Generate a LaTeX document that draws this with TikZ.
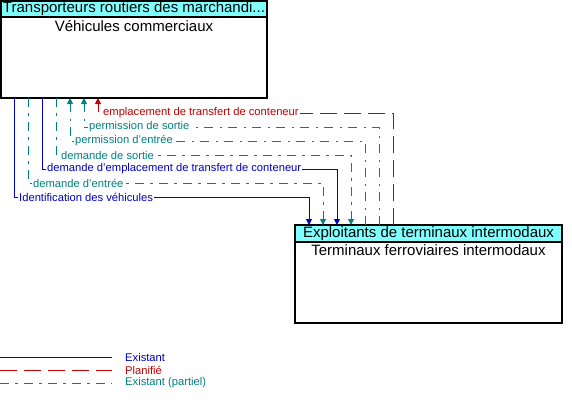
\documentclass[tikz,border=0pt]{standalone}
\usepackage{fontspec}
\setmainfont{Liberation Sans}
\usetikzlibrary{arrows.meta,calc}
\definecolor{cblue}{RGB}{0,0,200}
\definecolor{cred}{RGB}{192,0,0}
\definecolor{cteal}{RGB}{0,128,128}
\definecolor{chead}{RGB}{128,255,255}
\tikzset{
  box/.style={draw=black, line width=1.1pt, fill=white, anchor=north west, outer sep=0pt, inner sep=0pt},
  head/.style={draw=black, line width=1.1pt, fill=chead, anchor=north west, outer sep=0pt, inner sep=0pt},
  ttl/.style={anchor=center, inner sep=0pt, font=\fontsize{15}{17}\selectfont},
  exist/.style={cblue, line width=1pt},
  plan/.style={cred, line width=1pt, dash pattern=on 17pt off 7pt},
  part/.style={cteal, line width=1pt, dash pattern=on 9pt off 6pt on 2.5pt off 6.5pt},
  tip/.style={-{Triangle[length=6pt,width=6pt]}},
  lbl/.style={anchor=west, fill=white, inner sep=1pt, font=\fontsize{11.2}{13}\selectfont},
}
\begin{document}
\begin{tikzpicture}[x=1pt,y=-1pt]
\useasboundingbox (0,0) rectangle (572,402);
% boxes
\node[box, minimum width=266pt, minimum height=97pt] (veh) at (1,1) {};
\node[head, minimum width=266pt, minimum height=16pt] (vehh) at (veh.north west) {};
\node[ttl] (vehht) at (134,9) {Transporteurs routiers des marchandi...};
\node[ttl] (vehbt) at (134,26) {Véhicules commerciaux};
\node[box, minimum width=267pt, minimum height=98pt] (term) at (295,225) {};
\node[head, minimum width=267pt, minimum height=17pt] (termh) at (term.north west) {};
\node[ttl] (termht) at (428.5,233.5) {Exploitants de terminaux intermodaux};
\node[ttl] (termbt) at (428.5,250) {Terminaux ferroviaires intermodaux};
% connectors: veh -> term
\draw[exist,tip] ($(veh.south west)+(13,0)$) -- ++(0,99) -| ($(term.north west)+(14,0)$);
\node[lbl, text=cblue] (l1) at ($(veh.south west)+(17,99)$) {Identification des véhicules};
\draw[part,tip] ($(veh.south west)+(27,0)$) -- ++(0,85) -| ($(term.north west)+(28,0)$);
\node[lbl, text=cteal] (l2) at ($(veh.south west)+(31,85)$) {demande d'entrée};
\draw[exist,tip] ($(veh.south west)+(41,0)$) -- ++(0,71) -| ($(term.north west)+(42,0)$);
\node[lbl, text=cblue] (l3) at ($(veh.south west)+(45,71)$) {demande d'emplacement de transfert de conteneur};
\draw[part,tip] ($(veh.south west)+(55,0)$) -- ++(0,57) -| ($(term.north west)+(56,0)$);
\node[lbl, text=cteal] (l4) at ($(veh.south west)+(59,57)$) {demande de sortie};
% connectors: term -> veh
\draw[part,tip] ($(term.north west)+(70,0)$) |- ($(veh.south west)+(69,43)$) -- ($(veh.south west)+(69,0)$);
\node[lbl, text=cteal] (l5) at ($(veh.south west)+(73,43)$) {permission d'entrée};
\draw[part,tip] ($(term.north west)+(84,0)$) |- ($(veh.south west)+(83,29)$) -- ($(veh.south west)+(83,0)$);
\node[lbl, text=cteal] (l6) at ($(veh.south west)+(87,29)$) {permission de sortie};
\draw[plan,tip] ($(term.north west)+(98,0)$) |- ($(veh.south west)+(97,15)$) -- ($(veh.south west)+(97,0)$);
\node[lbl, text=cred] (l7) at ($(veh.south west)+(101,15)$) {emplacement de transfert de conteneur};
% legend
\coordinate (lg1a) at (0,357); \coordinate (lg1b) at (112,357);
\coordinate (lg2a) at (0,370); \coordinate (lg2b) at (112,370);
\coordinate (lg3a) at (0,383); \coordinate (lg3b) at (112,383);
\draw[exist] (lg1a) -- (lg1b);
\draw[plan] (lg2a) -- (lg2b);
\draw[part] (lg3a) -- (lg3b);
\node[lbl, fill=none, text=cblue] (lt1) at (124,357) {Existant};
\node[lbl, fill=none, text=cred] (lt2) at (124,370) {Planifié};
\node[lbl, fill=none, text=cteal] (lt3) at (124,383) {Existant (partiel)};
\end{tikzpicture}
\end{document}
